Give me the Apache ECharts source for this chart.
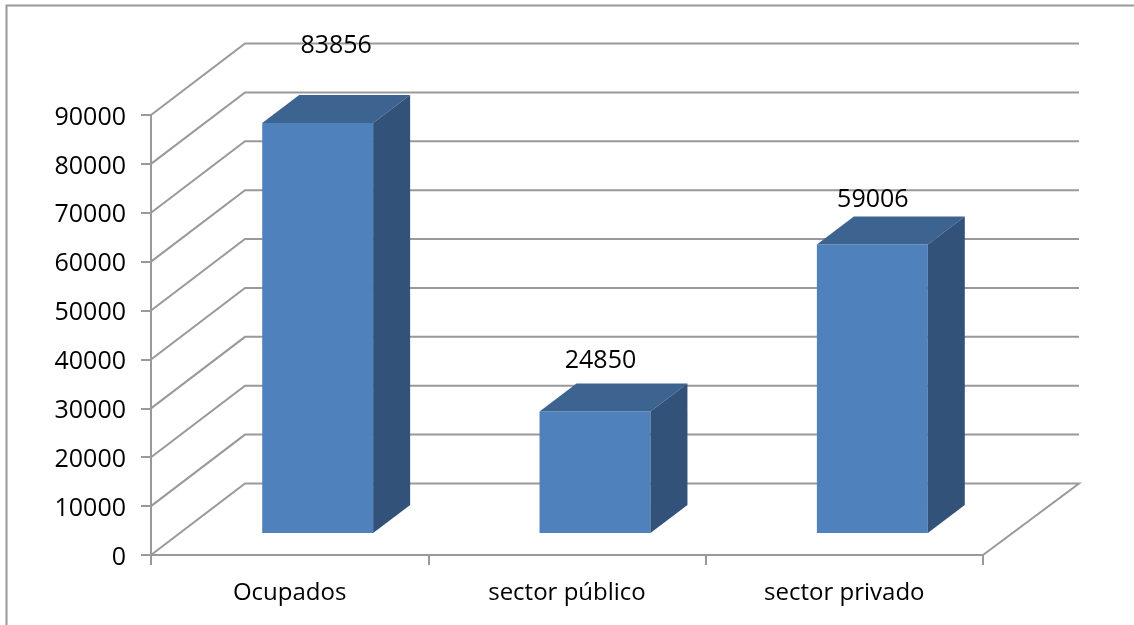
<!DOCTYPE html>
<html>
<head>
<meta charset="utf-8">
<style>
  html, body { margin: 0; padding: 0; background: #fff; }
  #main { width: 1134px; height: 625px; }
</style>
<script src="https://cdn.jsdelivr.net/npm/echarts@6/dist/echarts.min.js"></script>
</head>
<body>
<div id="main"></div>
<script>
const categories = ['Ocupados', 'sector público', 'sector privado'];
const values = [83856, 24850, 59006];
const yTicks = [0, 10000, 20000, 30000, 40000, 50000, 60000, 70000, 80000, 90000];

const fontFamily = '"Open Sans", "Noto Sans", sans-serif';
const gridColor = '#999';

// projected depth of the chart box, in pixels
const depthX = 94;
const depthY = 71.5;
const backRightExtra = 2;
// the bar sits inside that depth
const barNearX = 28;
const barNearY = 22;
const barDepthX = 37;
const barDepthY = 28;
const barWidthRatio = 0.4;
// where the data labels were put by hand in the original
const labelOffsets = [[0, -49], [-13, -23], [-18, -17]];

function renderWalls(params, api) {
  const box = params.coordSys;
  const y = api.coord([0, api.value(0)])[1];
  const left = box.x;
  const right = box.x + box.width;
  const points = [[left, y], [left + depthX, y - depthY], [right + depthX + backRightExtra, y - depthY]];
  // the floor also closes on the right side
  if (api.value(0) === 0) points.push([right, y]);
  return {
    type: 'polyline',
    shape: { points: points },
    style: { fill: 'none', stroke: gridColor, lineWidth: 2 }
  };
}

function renderBar(params, api) {
  const idx = api.value(0);
  const top = api.coord([idx, api.value(1)]);
  const base = api.coord([idx, 0]);
  const w = api.size([1, 0])[0] * barWidthRatio;
  const x0 = top[0] - w / 2 + barNearX;
  const x1 = x0 + w;
  const yTop = top[1] - barNearY;
  const yBase = base[1] - barNearY;
  const off = labelOffsets[params.dataIndex];
  return {
    type: 'group',
    children: [
      {
        type: 'polygon',
        shape: { points: [[x0, yBase], [x1, yBase], [x1, yTop], [x0, yTop]] },
        style: { fill: '#4f81bd' }
      },
      {
        type: 'polygon',
        shape: { points: [[x0, yTop], [x1, yTop], [x1 + barDepthX, yTop - barDepthY], [x0 + barDepthX, yTop - barDepthY]] },
        style: { fill: '#3d6390' }
      },
      {
        type: 'polygon',
        shape: { points: [[x1, yBase], [x1 + barDepthX, yBase - barDepthY], [x1 + barDepthX, yTop - barDepthY], [x1, yTop]] },
        style: { fill: '#32527a' }
      },
      {
        type: 'text',
        z2: 10,
        style: {
          x: x1 + barDepthX - w / 2 - barDepthX / 2 + off[0],
          y: yTop - barDepthY + off[1],
          text: String(api.value(1)),
          fill: '#000',
          font: '25px ' + fontFamily,
          align: 'center',
          verticalAlign: 'middle'
        }
      }
    ]
  };
}

const chart = echarts.init(document.getElementById('main'), null, { renderer: 'canvas' });
chart.setOption({
  animation: false,
  backgroundColor: '#fff',
  // only the left and top edges of the chart frame are inside the picture
  graphic: [
    {
      type: 'polyline',
      silent: true,
      shape: { points: [[6.5, 625], [6.5, 5.5], [1134, 5.5]] },
      style: { fill: 'none', stroke: '#999', lineWidth: 2 }
    }
  ],
  grid: { left: 151, right: 151, top: 115, bottom: 70 },
  xAxis: {
    type: 'category',
    data: categories,
    axisLine: { lineStyle: { color: gridColor, width: 2 } },
    axisTick: { show: true, alignWithLabel: false, length: 10, lineStyle: { color: gridColor, width: 2 } },
    axisLabel: { color: '#000', fontFamily: fontFamily, fontSize: 24, margin: 26 }
  },
  yAxis: {
    type: 'value',
    min: 0,
    max: 90000,
    interval: 10000,
    splitLine: { show: false },
    axisLine: { show: true, lineStyle: { color: gridColor, width: 2 } },
    axisTick: { show: true, length: 10, lineStyle: { color: gridColor, width: 2 } },
    axisLabel: {
      margin: 25,
      // rich padding pushes the digits down onto the tick
      formatter: function (v) { return '{tick|' + v + '}'; },
      rich: {
        tick: { color: '#000', fontFamily: fontFamily, fontSize: 25, padding: [5, 0, 0, 0] }
      }
    }
  },
  series: [
    {
      type: 'custom',
      renderItem: renderWalls,
      data: yTicks.map(function (v) { return [v]; }),
      encode: { y: 0 },
      silent: true,
      z: 1
    },
    {
      type: 'custom',
      renderItem: renderBar,
      data: values.map(function (v, i) { return [i, v]; }),
      encode: { x: 0, y: 1 },
      silent: true,
      z: 2
    }
  ]
});
</script>
</body>
</html>
